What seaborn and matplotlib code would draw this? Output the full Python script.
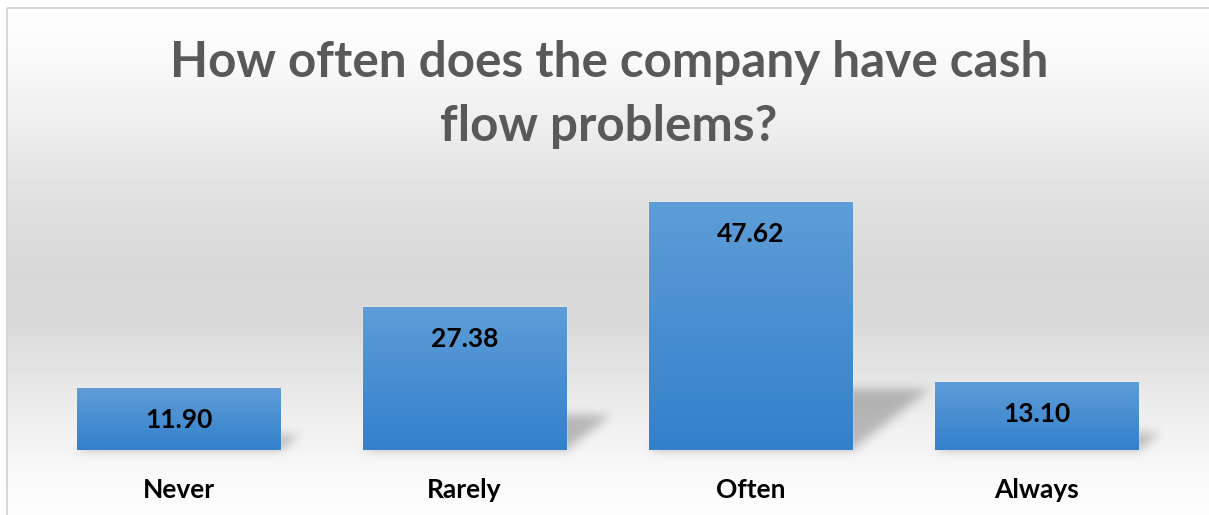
import numpy as np
import pandas as pd
import matplotlib
matplotlib.use("Agg")
import matplotlib.pyplot as plt
import seaborn as sns
from matplotlib.colors import to_rgb, LinearSegmentedColormap

# Survey answers (percent of respondents)
categories = ["Never", "Rarely", "Often", "Always"]
values = [11.90, 27.38, 47.62, 13.10]
value_labels = ["11.90", "27.38", "47.62", "13.10"]
title = "How often does the company have cash\nflow problems?"

sns.set_theme(style="white")
plt.rcParams["font.family"] = ["Lato", "DejaVu Sans"]

W, H = 1209, 515
fig = plt.figure(figsize=(W / 100, H / 100), dpi=100)
fig.patch.set_facecolor("white")

# ---- chart-area background: soft vertical grey band ----
bg = fig.add_axes([0, 0, 1, 1], zorder=0)
bg.set_axis_off()
rows = np.arange(H)
stops_y = [0, 7, 60, 133, 200, 270, 320, 367, 417, 450, 483, 515]
stops_v = [255, 254, 249, 236, 224, 216, 217, 227, 238, 244, 250, 253]
col = np.interp(rows, stops_y, stops_v) / 255.0
img = np.repeat(col[:, None], W, axis=1)
img[:7, :] = 1.0
img[:, :6] = 1.0
bg.imshow(img, cmap="gray", vmin=0, vmax=1, extent=(0, W, H, 0), aspect="auto",
          interpolation="bilinear", zorder=0)
bg.set_xlim(0, W)
bg.set_ylim(H, 0)
# thin frame of the chart area
bg.plot([6.5, W], [7.5, 7.5], color="#d6d6d6", lw=1.4, solid_capstyle="butt", zorder=3)
bg.plot([6.5, 6.5], [7.5, H], color="#d6d6d6", lw=1.4, solid_capstyle="butt", zorder=3)

# ---- bar plot ----
left, right = 35.5, 1179.5
base_px, top_px = 450.0, 189.5
ax = fig.add_axes([left / W, (H - base_px) / H, (right - left) / W, (base_px - top_px) / H],
                  zorder=1)
ax.patch.set_alpha(0)
df = pd.DataFrame({"answer": categories, "pct": values})
sns.barplot(data=df, x="answer", y="pct", width=0.713, color="#4a8fd3",
            saturation=1, ax=ax, zorder=3)
ax.set_xlim(-0.5, 3.5)
ax.set_ylim(0, 50)

top_c = np.array(to_rgb("#5e9dd7"))
bot_c = np.array(to_rgb("#3380cb"))
grad_cmap = LinearSegmentedColormap.from_list("bar", [bot_c, top_c])
grad = np.linspace(1, 0, 256)[:, None]

# soft perspective shadows, rasterised in figure pixels
shadow = np.zeros((H, W))
yy, xx = np.mgrid[0:H, 0:W] + 0.5
for patch, v in zip(ax.patches, values):
    x0 = patch.get_x()
    x1 = x0 + patch.get_width()
    dx = v * 0.00565
    dy = v * 0.245
    (px0, pb), (px1, _) = ax.transData.transform([(x0, 0), (x1, 0)])
    (qx0, qt), = ax.transData.transform([(x0 + dx, dy)])
    rb, rt = H - pb, H - qt            # image rows of base and top
    t = (rb - yy) / (rb - rt)
    inside = (t >= 0) & (t <= 1)
    lo = px0 + t * (qx0 - px0)
    hi = px1 + t * (qx0 - px0)
    shadow = np.maximum(shadow, (inside & (xx >= lo) & (xx <= hi)).astype(float))

sigma = 5.0
k = np.arange(-18, 19)
kern = np.exp(-0.5 * (k / sigma) ** 2)
kern /= kern.sum()
shadow = np.apply_along_axis(lambda r: np.convolve(r, kern, mode="same"), 1, shadow)
shadow = np.apply_along_axis(lambda c: np.convolve(c, kern, mode="same"), 0, shadow)
rgba = np.zeros((H, W, 4))
rgba[..., 3] = shadow * 0.24
bg.imshow(rgba, extent=(0, W, H, 0), aspect="auto", interpolation="bilinear", zorder=1)
bg.set_xlim(0, W)
bg.set_ylim(H, 0)

for patch, v, lab in zip(ax.patches, values, value_labels):
    x0 = patch.get_x()
    w = patch.get_width()
    # vertical gradient fill clipped to the bar
    im = ax.imshow(grad, cmap=grad_cmap, vmin=0, vmax=1, extent=(x0, x0 + w, 0, v),
                   aspect="auto", zorder=4, interpolation="bilinear")
    im.set_clip_path(patch)
    ax.text(x0 + w / 2, v - 6.1, lab, ha="center", va="center", fontsize=19,
            fontweight="bold", color="black", zorder=5)

ax.set_xlim(-0.5, 3.5)
ax.set_ylim(0, 50)
ax.set_xlabel("")
ax.set_ylabel("")
ax.set_yticks([])
ax.tick_params(axis="x", length=0, pad=20, labelsize=19)
for t in ax.get_xticklabels():
    t.set_fontweight("bold")
    t.set_color("black")
sns.despine(ax=ax, left=True, bottom=True)

fig.text(609 / W, 1 - 40 / H, title, ha="center", va="top", fontsize=35.6,
         fontweight="bold", color="#595959", linespacing=1.52)

fig.savefig("out.png", dpi=100)
